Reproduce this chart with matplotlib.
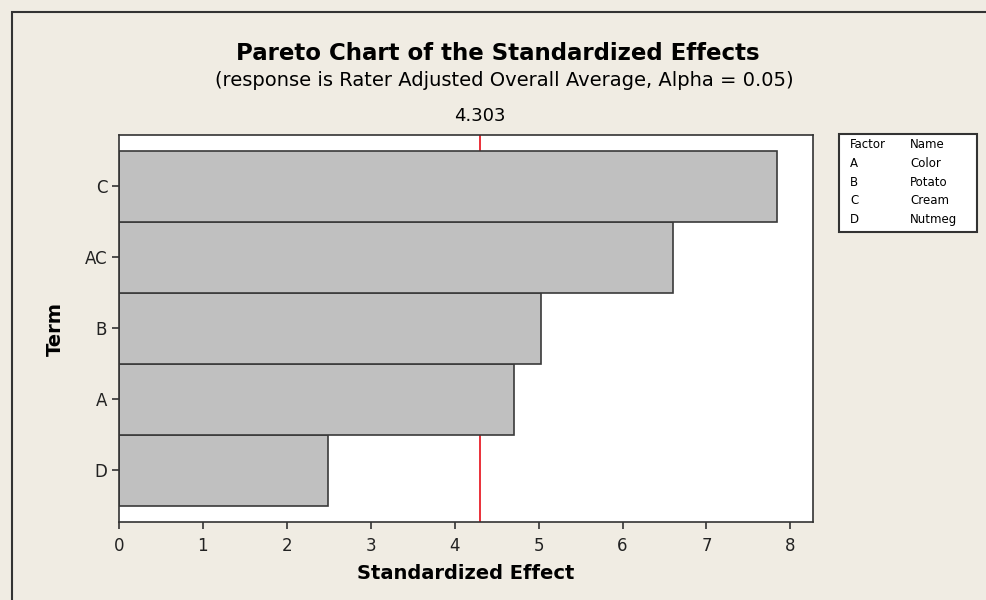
import matplotlib.pyplot as plt
from matplotlib.patches import Rectangle

# data
terms = ['D', 'A', 'B', 'AC', 'C']
effects = [2.49, 4.71, 5.03, 6.60, 7.84]
alpha_line = 4.303
factors = ['A', 'B', 'C', 'D']
names = ['Color', 'Potato', 'Cream', 'Nutmeg']

bg = '#f0ece3'
fig = plt.figure(figsize=(9.87, 6), dpi=100, facecolor=bg)

# outer frame of the graph window
fig.patches.append(Rectangle((12 / 987, -0.05), 1.2, 1 - 12 / 600 + 0.05,
                             transform=fig.transFigure, fill=False,
                             edgecolor='#333333', linewidth=1.5))

ax = fig.add_axes([119 / 987, 1 - 522 / 600, (813 - 119) / 987, (522 - 135) / 600])
ax.set_facecolor('white')
ypos = list(range(len(terms)))
# reference line sits behind the bars
ax.axvline(alpha_line, color='#e8202a', linewidth=1.3, zorder=1)
ax.barh(ypos, effects, height=1.0, color='#c0c0c0', edgecolor='#3a3a3a',
        linewidth=1.2, zorder=2)
ax.set_xlim(0, 8.27)
ax.set_ylim(-0.73, 4.72)
ax.set_yticks(ypos)
ax.set_yticklabels(terms)
ax.set_xticks(range(9))
ax.tick_params(axis='both', labelsize=12, color='#333333', length=5, width=1.2,
               labelcolor='#222222')
ax.tick_params(axis='x', pad=6)
for s in ax.spines.values():
    s.set_color('#333333')
    s.set_linewidth(1.2)
    s.set_zorder(3)

ax.set_xlabel('Standardized Effect', fontsize=14, fontweight='bold', labelpad=6)
ax.set_ylabel('Term', fontsize=14, fontweight='bold', labelpad=14)
ax.text(alpha_line, 4.86, '%.3f' % alpha_line, ha='center', va='bottom', fontsize=13)

fig.text(498 / 987, 1 - 53 / 600, 'Pareto Chart of the Standardized Effects',
         ha='center', va='center', fontsize=16.5, fontweight='bold')
fig.text(504 / 987, 1 - 80 / 600,
         '(response is Rater Adjusted Overall Average, Alpha = 0.05)',
         ha='center', va='center', fontsize=14)

# factor legend box
fig.patches.append(Rectangle((839 / 987, 1 - 232 / 600), 138 / 987, 98 / 600,
                             transform=fig.transFigure, facecolor='white',
                             edgecolor='#333333', linewidth=1.5))
rows = [('Factor', 'Name')] + list(zip(factors, names))
for i, (f, n) in enumerate(rows):
    yy = 1 - (145 + i * 18.6) / 600
    fig.text(850 / 987, yy, f, fontsize=8.5, va='center')
    fig.text(910 / 987, yy, n, fontsize=8.5, va='center')

plt.savefig('out.png', dpi=100, facecolor=bg)
